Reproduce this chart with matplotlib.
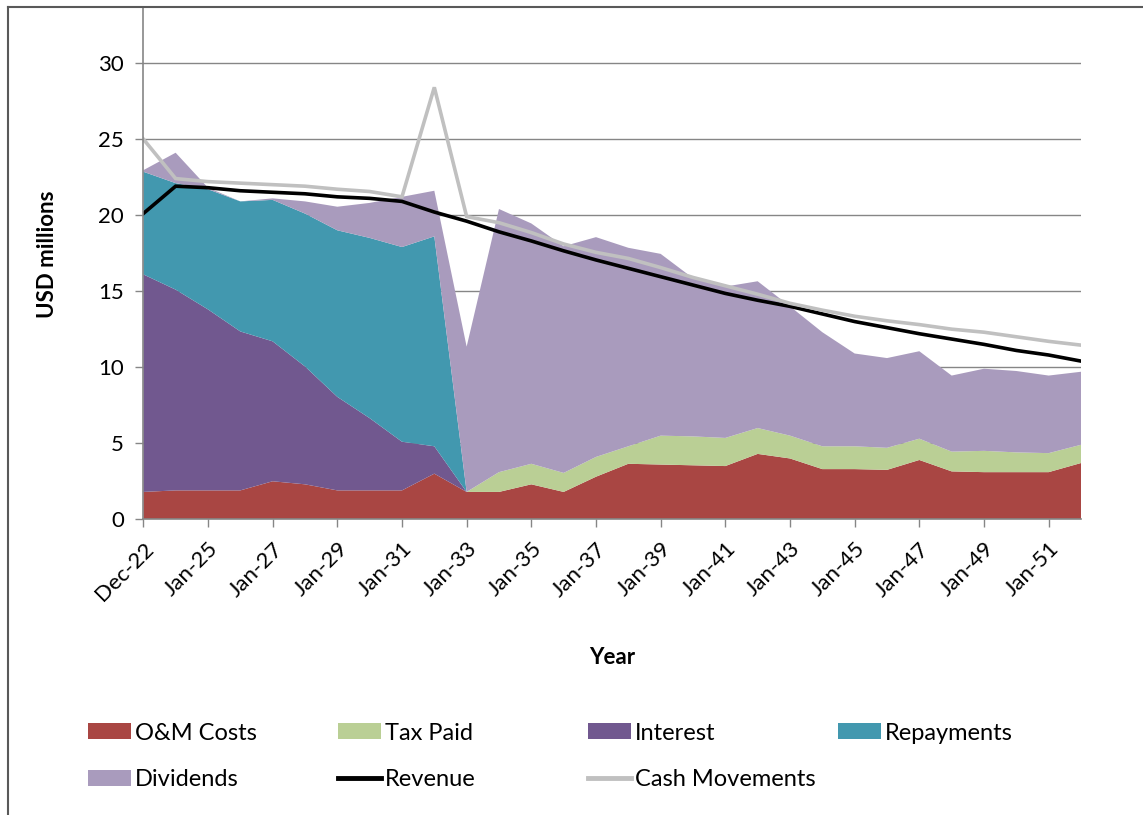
import matplotlib
matplotlib.use("Agg")
import matplotlib.pyplot as plt
from matplotlib.patches import Patch
from matplotlib.lines import Line2D

plt.rcParams['font.family'] = ['Lato', 'DejaVu Sans']

# --- data (USD millions) ---
PERIODS = ["Dec-22", "Jan-24", "Jan-25", "Jan-26", "Jan-27", "Jan-28", "Jan-29", "Jan-30",
           "Jan-31", "Jan-32", "Jan-33", "Jan-34", "Jan-35", "Jan-36", "Jan-37", "Jan-38",
           "Jan-39", "Jan-40", "Jan-41", "Jan-42", "Jan-43", "Jan-44", "Jan-45", "Jan-46",
           "Jan-47", "Jan-48", "Jan-49", "Jan-50", "Jan-51", "Jan-52"]

OM_COSTS = [1.8, 1.9, 1.9, 1.9, 2.5, 2.3, 1.9, 1.9, 1.9, 3.0, 1.8, 1.8, 2.3, 1.8, 2.8,
            3.65, 3.6, 3.55, 3.5, 4.3, 4.0, 3.3, 3.3, 3.25, 3.9, 3.15, 3.1, 3.1, 3.1, 3.7]
TAX_PAID = [0, 0, 0, 0, 0, 0, 0, 0, 0, 0, 0, 1.3, 1.35, 1.25, 1.3,
            1.15, 1.9, 1.9, 1.85, 1.7, 1.5, 1.5, 1.5, 1.45, 1.4, 1.3, 1.4, 1.3, 1.25, 1.2]
INTEREST = [14.3, 13.2, 11.9, 10.45, 9.2, 7.75, 6.15, 4.75, 3.2, 1.8, 0, 0, 0, 0, 0,
            0, 0, 0, 0, 0, 0, 0, 0, 0, 0, 0, 0, 0, 0, 0]
REPAYMENTS = [6.75, 7.0, 7.9, 8.55, 9.3, 10.05, 10.95, 11.85, 12.8, 13.8, 0, 0, 0, 0, 0,
              0, 0, 0, 0, 0, 0, 0, 0, 0, 0, 0, 0, 0, 0, 0]
DIVIDENDS = [0.1, 2.0, 0.1, 0.0, 0.1, 0.8, 1.55, 2.3, 3.3, 3.0, 9.55, 17.3, 15.8, 14.9, 14.45,
             13.05, 11.95, 10.4, 9.95, 9.65, 8.5, 7.5, 6.1, 5.9, 5.75, 5.0, 5.4, 5.35, 5.1, 4.8]
REVENUE = [20.1, 21.9, 21.8, 21.6, 21.5, 21.4, 21.2, 21.1, 20.9, 20.2, 19.6, 18.9, 18.3, 17.65,
           17.05, 16.5, 15.95, 15.4, 14.85, 14.4, 14.0, 13.5, 13.0, 12.6, 12.2, 11.85, 11.5,
           11.1, 10.8, 10.4]
CASH_MOVEMENTS = [25.0, 22.4, 22.2, 22.1, 22.0, 21.9, 21.7, 21.55, 21.2, 28.4, 19.9, 19.5,
                  18.85, 18.1, 17.55, 17.15, 16.55, 15.9, 15.35, 14.8, 14.2, 13.75, 13.35,
                  13.05, 12.8, 12.5, 12.3, 12.0, 11.7, 11.45]

AREA_LABELS = ["O&M Costs", "Tax Paid", "Interest", "Repayments", "Dividends"]
AREA_COLORS = ["#A94643", "#BACF95", "#71588F", "#4298AF", "#A99BBD"]

W, H = 1143, 815
fig = plt.figure(figsize=(W / 100, H / 100), dpi=100)

# plot area in pixels: left 143, right 1081, bottom 519, top 7
ax = fig.add_axes([143.3 / W, 1 - 519.3 / H, (1081 - 143.3) / W, (519.3 - 7) / H])

x = list(range(len(PERIODS)))
ax.stackplot(x, OM_COSTS, TAX_PAID, INTEREST, REPAYMENTS, DIVIDENDS,
             colors=AREA_COLORS, linewidth=0, zorder=2)
ax.plot(x, REVENUE, color="black", lw=2.6, zorder=4, solid_joinstyle="miter")
ax.plot(x, CASH_MOVEMENTS, color="#C0C0C0", lw=2.6, zorder=5, solid_joinstyle="miter")

ax.set_xlim(0, len(PERIODS) - 1)
ax.set_ylim(0, 33.68)
ax.set_yticks([0, 5, 10, 15, 20, 25, 30])
ax.set_xticks(x[::2])
ax.set_xticklabels(PERIODS[::2], rotation=45, ha="right", rotation_mode="anchor")

ax.grid(axis="y", color="#868686", lw=1.0)
ax.set_axisbelow(True)
for s in ["top", "right"]:
    ax.spines[s].set_visible(False)
for s in ["left", "bottom"]:
    ax.spines[s].set_color("#868686")
    ax.spines[s].set_linewidth(1.2)
    ax.spines[s].set_zorder(6)
ax.tick_params(axis="both", colors="#868686", length=6, width=1.0, labelsize=16,
               labelcolor="black")
ax.tick_params(axis="x", pad=8)
ax.tick_params(axis="y", pad=8)

fig.text(47 / W, 1 - 254 / H, "USD millions", rotation=90, ha="center", va="center",
         fontsize=16, fontweight="bold")
fig.text(612 / W, 1 - 657 / H, "Year", ha="center", va="center",
         fontsize=16, fontweight="bold")

# chart frame (left and top edges visible)
fig.add_artist(Line2D([8 / W, 8 / W], [0, 1 - 7 / H], transform=fig.transFigure,
                      color="#595959", lw=1.5))
fig.add_artist(Line2D([8 / W, 1], [1 - 7 / H, 1 - 7 / H], transform=fig.transFigure,
                      color="#595959", lw=1.5))

# legend, laid out like the Excel legend (row-wise, fixed column spacing)
handles = [Patch(facecolor=c) for c in AREA_COLORS]
handles += [Line2D([], [], color="black", lw=3.5), Line2D([], [], color="#C0C0C0", lw=3.5)]
labels = AREA_LABELS + ["Revenue", "Cash Movements"]
col_x = [88, 338, 588, 838]
row_y = [733, 780]
for i, (h, lab) in enumerate(zip(handles, labels)):
    px = col_x[i % 4]
    py = row_y[i // 4]
    leg = fig.legend([h], [lab], loc="center left", bbox_to_anchor=(px / W, 1 - py / H),
                     frameon=False, borderpad=0, borderaxespad=0, fontsize=17,
                     handlelength=1.8, handleheight=0.65, handletextpad=0.2)

fig.savefig("out.png", dpi=100)
